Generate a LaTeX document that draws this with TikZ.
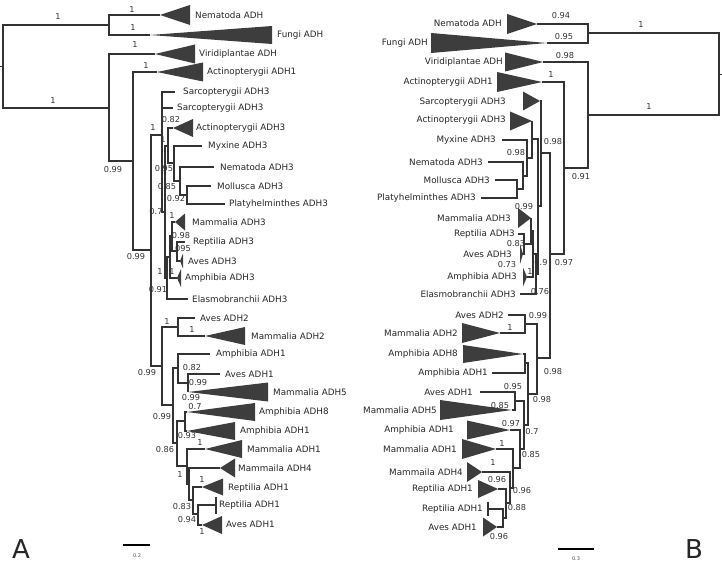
\documentclass[tikz,border=0pt]{standalone}
\usepackage{fontspec}
\setmainfont{DejaVu Sans}
\tikzset{
  branch/.style={draw=black!80,line width=1.2pt},
  clade/.style={fill=black!76},
  taxon/.style={font=\fontsize{8.8}{10}\selectfont,inner sep=0pt,text=black!85},
  support/.style={font=\fontsize{8.2}{9}\selectfont,inner sep=0pt,text=black!80},
  panel/.style={font=\fontsize{26}{28}\selectfont,inner sep=0pt,text=black!85},
  scalebar/.style={draw=black,line width=1.8pt},
  scaletext/.style={font=\fontsize{5}{6}\selectfont,inner sep=0pt,text=black!70}
}

\begin{document}
\begin{tikzpicture}[x=1pt,y=-1pt]
  \useasboundingbox (0,0) rectangle (722,567);

  % panel A: inner nodes and branch ends
  \foreach \n/\px/\py in {rootA/3/66.5,stubA/0/66.5,a1/109/25,a2/109/108,bA/133/161,cA/151/250,
      dA/162/135,gA/165/212,hA/168/146,jA/174/163,kA/180/181,lA/187/195,iA/167/278,nA/170/257,
      oA/172/236,pA/177/251,eA/162/366,tA/178/327,uA/173/405,vA/178/368,wA/188/383,xA/177/443,
      yA/185/421,zA/187/466,z2A/189/484,z3A/193/500,z4A/198/514,
      nemA/160/15,fungiA/150/35,viriA/155/54,actA1/157/72,sarA1/175/92,sarA2/173/108,
      actA3/173/128,myxA/202/146,nemA3/214/167,molA/211/186,plaA/225/204,mamA3/175/222,
      repA3/185/242,avesA3/180/261,amphA3/177/278,elaA/188/299,avesA2/195/318,mamA2/205/336,
      amphA1/210/354,avesA1/220/374,mamA5/188/392,amphA8/187/412,amphA1b/187/431,mamA1/205/449,
      mamA4/220/468,repA1/202/487,repA1b/216/505,avesA1b/202/525}
    \coordinate (\n) at (\px,\py);

  \draw[branch] (rootA) -- (stubA);
  \foreach \p/\c in {rootA/a1,rootA/a2,a1/nemA,a1/fungiA,a2/viriA,a2/bA,bA/actA1,bA/cA,cA/dA,cA/eA,
      dA/sarA1,dA/sarA2,dA/gA,gA/hA,gA/iA,hA/actA3,hA/jA,jA/myxA,jA/kA,kA/nemA3,kA/lA,lA/molA,
      lA/plaA,iA/nA,iA/elaA,nA/oA,nA/amphA3,oA/mamA3,oA/pA,pA/repA3,pA/avesA3,eA/tA,eA/uA,
      tA/avesA2,tA/mamA2,uA/vA,uA/xA,vA/amphA1,vA/wA,wA/avesA1,wA/mamA5,xA/yA,xA/zA,
      yA/amphA8,yA/amphA1b,zA/mamA1,zA/z2A,z2A/mamA4,z2A/z3A,z3A/repA1,z3A/z4A,
      z4A/repA1b,z4A/avesA1b}
    \draw[branch] (\p) |- (\c);

  % collapsed clades, tip on the left
  \foreach \c/\w/\h in {nemA/30/10,fungiA/122/9,viriA/40/9.5,actA1/46/9.5,actA3/20/9,
      mamA3/10/8.5,avesA3/3/7.5,amphA3/4/9,mamA2/40/9,mamA5/80/9.5,amphA8/68/9,amphA1b/48/9,
      mamA1/37/9,mamA4/15/9.5,repA1/21/8.5,avesA1b/20/9}
    \fill[clade] (\c) -- ++(\w,-\h) -- ++(0,2*\h) -- cycle;
  \draw[branch] (repA1b) ++(0,-8.5) -- ++(0,17);

  \foreach \n/\px/\py/\t in {nemAl/195/15/Nematoda ADH,fungiAl/277/35/Fungi ADH,
      viriAl/199/54/Viridiplantae ADH,actA1l/207/72/Actinopterygii ADH1,
      sarA1l/183/92/Sarcopterygii ADH3,sarA2l/177/108/Sarcopterygii ADH3,
      actA3l/196/128/Actinopterygii ADH3,myxAl/208/146/Myxine ADH3,nemA3l/220/167/Nematoda ADH3,
      molAl/217/186/Mollusca ADH3,plaAl/229/204/Platyhelminthes ADH3,mamA3l/192/222/Mammalia ADH3,
      repA3l/193/242/Reptilia ADH3,avesA3l/188/261/Aves ADH3,amphA3l/185/278/Amphibia ADH3,
      elaAl/192/299/Elasmobranchii ADH3,avesA2l/200/318/Aves ADH2,mamA2l/251/336/Mammalia ADH2,
      amphA1l/216/354/Amphibia ADH1,avesA1l/225/374/Aves ADH1,mamA5l/273/392/Mammalia ADH5,
      amphA8l/259/412/Amphibia ADH8,amphA1bl/240/431/Amphibia ADH1,mamA1l/247/449/Mammalia ADH1,
      mamA4l/238/468/Mammaila ADH4,repA1l/228/488/Reptilia ADH1,repA1bl/219/505/Reptilia ADH1,
      avesA1bl/226/524/Aves ADH1}
    \node[taxon,anchor=west] (\n) at (\px,\py) {\t};

  \foreach \px/\py/\t [count=\i] in {58/17/1,132/10/1,133/28/1,135/45/1,146/66/1,53/101/1,
      113/170/0.99,153/128/1,171/120/0.82,163/140/1,164/169/0.95,167/187/0.85,176/199/0.92,
      156/212/0.7,172/216/1,181/236/0.98,183/249/095,160/272/1,172/272/1,158/290/0.91,
      136/257/0.99,167/322/1,192/330/1,192/368/0.82,198/383/0.99,147/373/0.99,162/417/0.99,
      191/398/0.99,195/407/0.7,187/436/0.93,165/450/0.86,200/443/1,180/475/1,202/480/1,
      182/507/0.83,187/520/0.94,202/532/1}
    \node[support] (supA\i) at (\px,\py) {\t};

  % panel B: inner nodes and branch ends
  \foreach \n/\px/\py in {rootB/719/74.5,stubB/722/74.5,b1/588/33,b2/588/115,b3/564/168,
      b4/550/254,b5/541/153,sB/538/206,tB/532/139,vB/527/158,wB/523/176,xB/517/189,
      uB/536/274,u1B/533/254,u2B/531/231,u3B/524/244,b6/537/358,p1B/525/324,p3B/528/394,
      p2B/525/363,p4B/524/425,p5B/515/401,p6B/520/449,p7B/513/468,p8B/510/488,p9B/506/503,
      p10B/503/518,
      nemB/537/24,fungiB/547/43,viriB/543/62,actB1/542/82,sarB/540/101,actB3/532/121,
      myxB/502/140,nemB3/488/162,molB/495/180,plaB/481/198,mamB3/531/218,repB3/518/234,
      avesB3/523/254,amphB3/527/277,elaB/520/294,avesB2/508/315,mamB2/500/333,amphB8/523/354,
      amphB1/492/373,avesB1/480/392,mamB5/512/410,amphB1b/510/430,mamB1/496/449,mamB4/482/472,
      repB1/498/489,repB1b/488/509,avesB1b/497/527}
    \coordinate (\n) at (\px,\py);

  \draw[branch] (rootB) -- (stubB);
  \foreach \p/\c in {rootB/b1,rootB/b2,b1/nemB,b1/fungiB,b2/viriB,b2/b3,b3/actB1,b3/b4,b4/b5,b4/b6,
      b5/sarB,b5/sB,sB/tB,sB/uB,tB/actB3,tB/vB,vB/myxB,vB/wB,wB/nemB3,wB/xB,xB/molB,xB/plaB,
      uB/u1B,uB/elaB,u1B/u2B,u1B/amphB3,u2B/mamB3,u2B/u3B,u3B/repB3,u3B/avesB3,b6/p1B,b6/p3B,
      p1B/avesB2,p1B/mamB2,p3B/p2B,p3B/p4B,p2B/amphB8,p2B/amphB1,p4B/p5B,p4B/p6B,p5B/avesB1,
      p5B/mamB5,p6B/amphB1b,p6B/p7B,p7B/mamB1,p7B/p8B,p8B/mamB4,p8B/p9B,p9B/repB1,p9B/p10B,
      p10B/repB1b,p10B/avesB1b}
    \draw[branch] (\p) |- (\c);

  % collapsed clades, tip on the right
  \foreach \c/\w/\h in {nemB/30/10,fungiB/116/10,viriB/38/9.5,actB1/45/10,sarB/17/9.5,
      actB3/22/9.5,mamB3/13/10,avesB3/3/10,amphB3/4/9.5,mamB2/38/10,amphB8/60/9,mamB5/72/10,
      amphB1b/43/9.5,mamB1/34/10,mamB4/15/10,repB1/20/9,avesB1b/14/9.5}
    \fill[clade] (\c) -- ++(-\w,-\h) -- ++(0,2*\h) -- cycle;
  \draw[branch] (repB1b) ++(0,-7) -- ++(0,14);

  \foreach \n/\px/\py/\t in {nemBl/502/23/Nematoda ADH,fungiBl/428/43/Fungi ADH,
      viriBl/503/62/Viridiplantae ADH,actB1l/493/82/Actinopterygii ADH1,
      sarBl/506/102/Sarcopterygii ADH3,actB3l/506/120/Actinopterygii ADH3,
      myxBl/496/140/Myxine ADH3,nemB3l/483/162/Nematoda ADH3,molBl/490/180/Mollusca ADH3,
      plaBl/476/198/Platyhelminthes ADH3,mamB3l/511/218/Mammalia ADH3,repB3l/515/234/Reptilia ADH3,
      avesB3l/512/254/Aves ADH3,amphB3l/517/277/Amphibia ADH3,elaBl/516/294/Elasmobranchii ADH3,
      avesB2l/504/315/Aves ADH2,mamB2l/458/333/Mammalia ADH2,amphB8l/458/354/Amphibia ADH8,
      amphB1l/488/373/Amphibia ADH1,avesB1l/473/392/Aves ADH1,mamB5l/437/410/Mammalia ADH5,
      amphB1bl/454/430/Amphibia ADH1,mamB1l/457/449/Mammalia ADH1,mamB4l/463/472/Mammaila ADH4,
      repB1l/473/489/Reptilia ADH1,repB1bl/483/509/Reptilia ADH1,avesB1bl/477/527/Aves ADH1}
    \node[taxon,anchor=east] (\n) at (\px,\py) {\t};

  \foreach \px/\py/\t [count=\i] in {641/25/1,649/107/1,561/16/0.94,564/37/0.95,565/56/0.98,
      551/75/1,553/142/0.98,516/153/0.98,581/177/0.91,524/207/0.99,516/244/0.83,507/265/0.73,
      530/272/1,541/263/0.9,564/263/0.97,540/292/0.76,538/316/0.99,510/328/1,553/372/0.98,
      513/387/0.95,542/400/0.98,500/406/0.85,511/424/0.97,532/432/0.7,502/444/1,531/455/0.85,
      493/463/1,497/480/0.96,522/491/0.96,517/508/0.88,499/537/0.96}
    \node[support] (supB\i) at (\px,\py) {\t};

  % scale bars and panel letters
  \coordinate (sbA1) at (123,545);
  \coordinate (sbA2) at (150,545);
  \draw[scalebar] (sbA1) -- (sbA2);
  \node[scaletext] (sbAt) at (137,556) {0.2};
  \coordinate (sbB1) at (558,549);
  \coordinate (sbB2) at (594,549);
  \draw[scalebar] (sbB1) -- (sbB2);
  \node[scaletext] (sbBt) at (576,559) {0.3};
  \node[panel] (panelA) at (21,549) {A};
  \node[panel] (panelB) at (694,549) {B};
\end{tikzpicture}
\end{document}
